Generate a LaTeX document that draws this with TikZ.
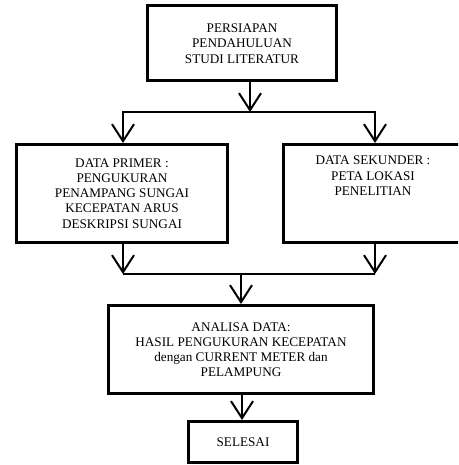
\documentclass[tikz,border=0pt]{standalone}
\usepackage{fontspec}
\setmainfont{Liberation Serif}
\usetikzlibrary{arrows.meta}
\begin{document}
\begin{tikzpicture}[x=1pt,y=-1pt,
  box/.style={draw, line width=3pt, inner sep=0pt, align=center, font=\fontsize{13.2}{15.2}\selectfont},
  txt/.style={inner sep=0pt, align=center, font=\fontsize{13.2}{15.2}\selectfont},
  conn/.style={draw, line width=2pt},
  arr/.style={conn, -{Straight Barb[length=17pt,width=22pt,line width=2pt]}},
  barr/.style={conn, {Straight Barb[length=17pt,width=22pt,line width=2pt]}-{Straight Barb[length=17pt,width=22pt,line width=2pt]}}]
\useasboundingbox (0,0) rectangle (458,465);
\clip (0,0) rectangle (458,465);
\node[box, minimum width=189pt, minimum height=75pt] (b1) at (242,43.5)
  {PERSIAPAN\\PENDAHULUAN\\STUDI LITERATUR};
\node[box, minimum width=211pt, minimum height=98pt] (lb) at (122,193.5)
  {DATA PRIMER :\\PENGUKURAN\\PENAMPANG SUNGAI\\KECEPATAN ARUS\\DESKRIPSI SUNGAI};
\node[box, minimum width=179pt, minimum height=98pt] (rb) at (373,193.5) {};
\node[txt, anchor=north] (rbt) at (373,156) {DATA SEKUNDER :\\PETA LOKASI\\PENELITIAN};
\node[box, minimum width=265pt, minimum height=88pt] (an) at (241,349.5)
  {ANALISA DATA:\\HASIL PENGUKURAN KECEPATAN\\dengan CURRENT METER dan\\PELAMPUNG};
\node[box, minimum width=109pt, minimum height=41pt] (se) at (243,442) {SELESAI};
\coordinate (t) at (250,112);
\coordinate (tl) at (123,112);
\coordinate (tr) at (375,112);
\coordinate (bl) at (123,274);
\coordinate (br) at (375,274);
\coordinate (bm) at (241,274);
\coordinate (m2) at (242,300);
\draw[arr] (b1.south -| t) -- (t);
\draw[barr] (lb.north -| tl) -- (tl) -- (tr) -- (rb.north -| tr);
\draw[arr] (lb.south -| bl) -- (bl);
\draw[arr] (rb.south -| br) -- (br);
\draw[conn] (bl) -- (br);
\draw[arr] (bm) -- (an.north -| bm);
\draw[arr] (an.south -| m2) -- (se.north -| m2);
\end{tikzpicture}
\end{document}
